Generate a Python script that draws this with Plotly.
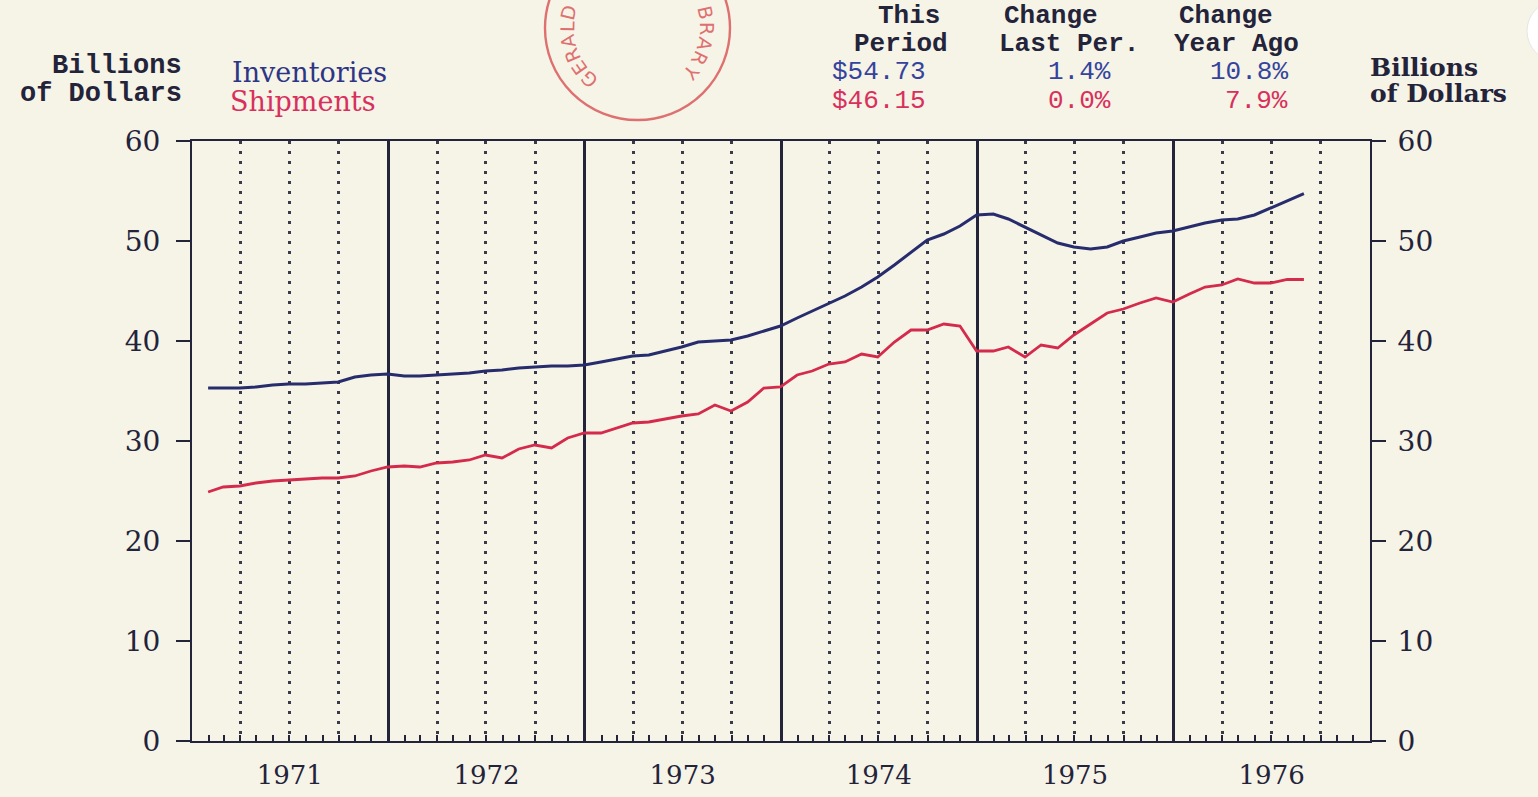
import math
import pandas as pd
import plotly.graph_objects as go

# ---------------- data ----------------
months = pd.date_range("1971-01-31", periods=68, freq="ME")  # Jan 1971 .. Aug 1976 (month-end)

inventories = [
    35.3, 35.3, 35.3, 35.4, 35.6, 35.7, 35.7, 35.8, 35.9, 36.4, 36.6, 36.7,
    36.5, 36.5, 36.6, 36.7, 36.8, 37.0, 37.1, 37.3, 37.4, 37.5, 37.5, 37.6,
    37.9, 38.2, 38.5, 38.6, 39.0, 39.4, 39.9, 40.0, 40.1, 40.5, 41.0, 41.5,
    42.3, 43.0, 43.7, 44.5, 45.4, 46.4, 47.6, 48.9, 50.1, 50.7, 51.5, 52.6,
    52.7, 52.2, 51.4, 50.6, 49.8, 49.4, 49.2, 49.4, 50.0, 50.4, 50.8, 51.0,
    51.4, 51.8, 52.1, 52.2, 52.6, 53.3, 53.97, 54.73,
]
shipments = [
    24.9, 25.4, 25.5, 25.8, 26.0, 26.1, 26.2, 26.3, 26.3, 26.5, 27.0, 27.4,
    27.5, 27.4, 27.8, 27.9, 28.1, 28.6, 28.3, 29.2, 29.6, 29.3, 30.3, 30.8,
    30.8, 31.3, 31.8, 31.9, 32.2, 32.5, 32.7, 33.6, 33.0, 33.9, 35.3, 35.4,
    36.6, 37.0, 37.7, 37.9, 38.7, 38.4, 39.9, 41.1, 41.1, 41.7, 41.5, 39.0,
    39.0, 39.4, 38.4, 39.6, 39.3, 40.6, 41.7, 42.8, 43.2, 43.8, 44.3, 43.9,
    44.7, 45.4, 45.6, 46.2, 45.8, 45.8, 46.15, 46.15,
]
years = [1971, 1972, 1973, 1974, 1975, 1976]
y_ticks = [0, 10, 20, 30, 40, 50, 60]

header_cols = [("This", "Period"), ("Change", "Last Per."), ("Change", "Year Ago")]
inv_stats = ["$54.73", "1.4%", "10.8%"]
shp_stats = ["$46.15", "0.0%", "7.9%"]

# ---------------- style ----------------
BG = "#f6f3e7"
INK = "#23233a"
NAVY = "#272c6c"
RED = "#d42a4c"
BLUE_TXT = "#34449c"
RED_TXT = "#d8305c"
STAMP = "#de7070"
SERIF = "DejaVu Serif"
MONO = "Liberation Mono"

W, H = 1538, 797
L, R, T, B = 192, 1370, 141, 741


def fx(px):
    return (px - L) / (R - L)


def fy(py):
    return (B - py) / (B - T)


x_range = ["1971-01-01", "1977-01-01"]
year_starts = [f"{y}-01-01" for y in years[1:]]
quarter_lines = [f"{y}-{m:02d}-01" for y in years for m in (4, 7, 10)]
mid_years = [f"{y}-07-02" for y in years]

fig = go.Figure()
fig.add_trace(go.Scatter(x=months, y=inventories, mode="lines", name="Inventories",
                         line=dict(color=NAVY, width=3), showlegend=False))
fig.add_trace(go.Scatter(x=months, y=shipments, mode="lines", name="Shipments",
                         line=dict(color=RED, width=2.8), showlegend=False))
# empty traces to instantiate helper axes
fig.add_trace(go.Scatter(x=[], y=[], xaxis="x2", yaxis="y2", showlegend=False, hoverinfo="skip"))
fig.add_trace(go.Scatter(x=[], y=[], xaxis="x3", yaxis="y", showlegend=False, hoverinfo="skip"))

axis_font = dict(family=SERIF, size=26, color=INK)
ytick_font = dict(family=SERIF, size=28, color=INK)

fig.update_layout(
    width=W, height=H,
    margin=dict(l=L, r=W - R, t=T, b=H - B, pad=0, autoexpand=False),
    paper_bgcolor=BG, plot_bgcolor=BG,
    xaxis=dict(
        type="date", range=x_range, tickmode="array", tickvals=mid_years,
        ticktext=[str(y) for y in years], ticks="", showgrid=False, zeroline=False,
        showline=True, mirror=True, linecolor=INK, linewidth=2,
        tickfont=axis_font, ticklabelstandoff=10, automargin=False,
    ),
    xaxis2=dict(
        type="date", range=x_range, overlaying="x", anchor="y", automargin=False,
        tickmode="array", tickvals=year_starts, showticklabels=False, ticks="",
        showgrid=True, gridcolor=INK, gridwidth=2.5, zeroline=False, showline=False,
        minor=dict(tickmode="array", tickvals=quarter_lines, showgrid=True,
                   gridcolor="#3a3a4a", gridwidth=3, griddash="3px,7px", ticks=""),
    ),
    xaxis3=dict(
        type="date", range=x_range, overlaying="x", anchor="y", automargin=False,
        tick0="1971-01-01", dtick="M1", ticks="inside", ticklen=6, tickwidth=2,
        tickcolor=INK, showticklabels=False, showgrid=False, zeroline=False, showline=False,
    ),
    yaxis=dict(
        range=[0, 60], tickmode="array", tickvals=y_ticks, ticks="outside", ticklen=14,
        tickwidth=2, tickcolor=INK, showline=True, linecolor=INK, linewidth=2,
        showgrid=False, zeroline=False, tickfont=ytick_font, automargin=False,
        ticklabelstandoff=10,
    ),
    yaxis2=dict(
        range=[0, 60], overlaying="y", side="right", anchor="x", automargin=False,
        tickmode="array", tickvals=y_ticks, ticks="outside", ticklen=14,
        tickwidth=2, tickcolor=INK, showline=True, linecolor=INK, linewidth=2,
        showgrid=False, zeroline=False, tickfont=ytick_font,
        ticklabelstandoff=6,
    ),
)

ann = []


def text(px, py, s, xanchor="left", font=None, angle=0):
    ann.append(dict(x=fx(px), y=fy(py), xref="paper", yref="paper", text=s,
                    showarrow=False, xanchor=xanchor, yanchor="middle",
                    font=font, textangle=angle))


mono_left = dict(family=MONO, size=27, color=INK, weight="bold")
mono = dict(family=MONO, size=26, color=INK, weight="bold")
# left axis title (typewriter)
text(184, 66, "Billions", "right", mono_left)
text(184, 94, "of Dollars", "right", mono_left)
# legend labels
text(230, 72, "Inventories", "left", dict(family=SERIF, size=27, color="#2d3585"))
text(228, 101, "Shipments", "left", dict(family=SERIF, size=27, color=RED_TXT))
# header table
col_centers = [(909, 901), (1051, 1069), (1226, 1236)]
for (top, bot), (cx1, cx2) in zip(header_cols, col_centers):
    text(cx1, 16, top, "center", mono)
    text(cx2, 44, bot, "center", mono)
stat_pos = [(830, "left"), (1113, "right"), (1290, "right")]
for s, (px, xa) in zip(inv_stats, stat_pos):
    text(px, 72, s, xa, dict(family=MONO, size=26, color=BLUE_TXT))
for s, (px, xa) in zip(shp_stats, stat_pos):
    text(px, 101, s, xa, dict(family=MONO, size=26, color=RED_TXT))
# right axis title
rt = dict(family=SERIF, size=25, color=INK, weight="bold")
text(1368, 67, "Billions", "left", rt)
text(1368, 94, "of Dollars", "left", rt)

# library stamp (decoration)
scx, scy, srad = 637, 28, 70
stamp_font = dict(family="DejaVu Sans", size=19, color=STAMP)
for ch, phi in zip("GERALD", [133, 145, 157, 169, 181, 193]):
    a = math.radians(phi)
    text(scx + srad * math.cos(a), scy + srad * math.sin(a), ch, "center",
         stamp_font, angle=phi + 90 - 360)
for ch, phi in zip("BRARY", [-13, 0, 13, 26, 39]):
    a = math.radians(phi)
    text(scx + srad * math.cos(a), scy + srad * math.sin(a), ch, "center",
         stamp_font, angle=phi + 90)

fig.update_layout(annotations=ann)

shapes = [
    dict(type="circle", xref="paper", yref="paper", x0=fx(545), x1=fx(730),
         y0=fy(120), y1=fy(-64), line=dict(color=STAMP, width=2.4), layer="above"),
    dict(type="circle", xref="paper", yref="paper", x0=fx(1527), x1=fx(1590),
         y0=fy(62), y1=fy(0), line=dict(color="#e6e6e6", width=1), fillcolor="#ffffff",
         layer="above"),
]
fig.update_layout(shapes=shapes)

fig.write_html(
    "out.html",
    config={"displayModeBar": False},
    post_script="document.body.style.margin='0';document.body.style.background='" + BG + "';",
)
